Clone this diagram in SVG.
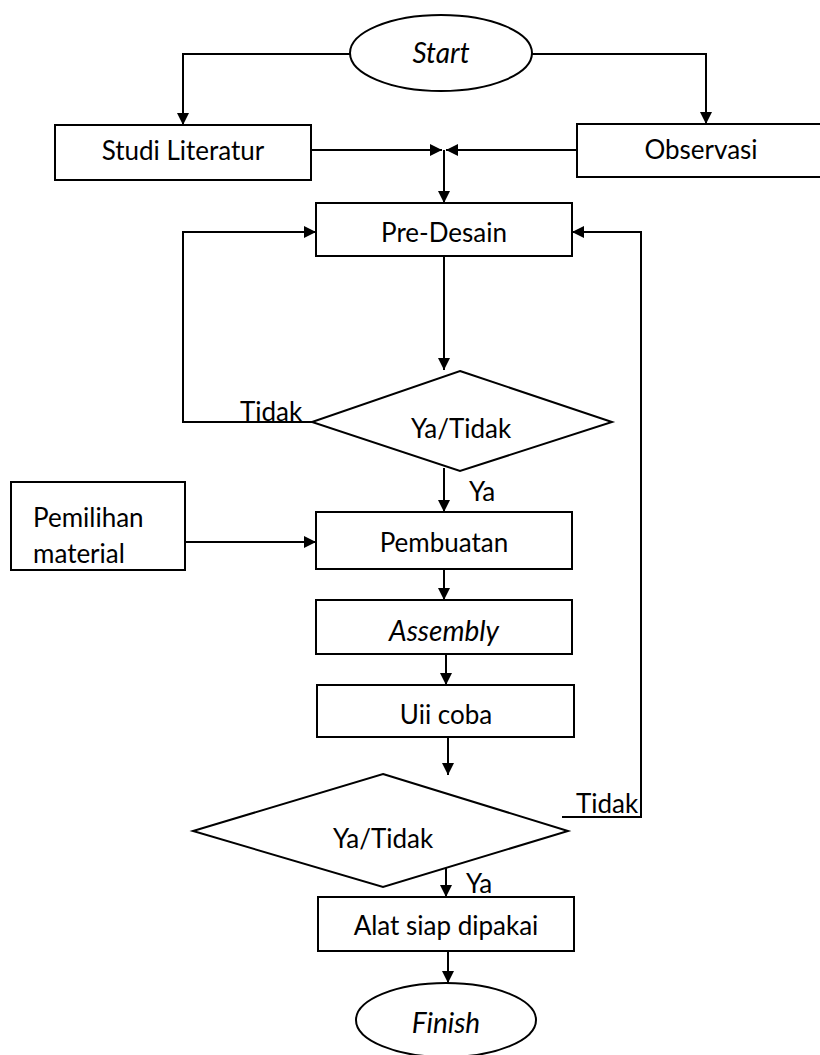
<svg xmlns="http://www.w3.org/2000/svg" width="820" height="1055" viewBox="0 0 820 1055">
<defs>
<marker id="ah" viewBox="0 0 12 12" refX="12" refY="6" markerWidth="12" markerHeight="12" markerUnits="userSpaceOnUse" orient="auto">
<path d="M0,0 L12,6 L0,12 Z" fill="#000"/>
</marker>
<style>
.s{fill:#fff;stroke:#000;stroke-width:2}
.c{fill:none;stroke:#000;stroke-width:2}
.a{fill:none;stroke:#000;stroke-width:2;marker-end:url(#ah)}
text{font-family:Lato,"Open Sans","Liberation Sans",sans-serif;font-size:26px;fill:#000}
.m{text-anchor:middle}
.i{font-style:italic;font-size:28px}
</style>
</defs>
<rect width="820" height="1055" fill="#fff"/>
<g id="connectors">
<path class="a" d="M350,54 H183 V125"/>
<path class="a" d="M532,54 H706 V124"/>
<path class="a" d="M311,150 H442"/>
<path class="a" d="M577,150 H446"/>
<path class="a" d="M444,150 V203"/>
<path class="a" d="M312,422 H183 V232 H316"/>
<path class="a" d="M562,817 H641 V232 H572"/>
<path class="a" d="M444,256 V370"/>
<path class="a" d="M444,468 V512"/>
<path class="a" d="M185,542 H316"/>
<path class="a" d="M444,569 V600"/>
<path class="a" d="M446,647 V685"/>
<path class="a" d="M448,737 V775"/>
<path class="a" d="M446,860 V897"/>
<path class="a" d="M448,945 V983"/>
</g>
<g id="start"><ellipse class="s" cx="441" cy="53" rx="91" ry="38"/><text class="m i" x="441" y="63">Start</text></g>
<g id="studi"><rect class="s" x="55" y="125" width="256" height="55"/><text class="m" x="183" y="160">Studi Literatur</text></g>
<g id="observasi"><rect class="s" x="577" y="124" width="260" height="53"/><text class="m" x="701" y="159">Observasi</text></g>
<g id="predesain"><rect class="s" x="316" y="203" width="256" height="53"/><text class="m" x="444" y="242">Pre-Desain</text></g>
<g id="decision1"><polygon class="s" points="460,371 612,422 460,471 312,422"/><text class="m" x="461" y="438">Ya/Tidak</text></g>
<g id="label-tidak1"><text x="240" y="421">Tidak</text></g>
<g id="label-ya1"><text x="469" y="501">Ya</text></g>
<g id="pemilihan"><rect class="s" x="11" y="482" width="174" height="88"/><text x="33" y="527">Pemilihan</text><text x="33" y="563">material</text></g>
<g id="pembuatan"><rect class="s" x="316" y="512" width="256" height="57"/><text class="m" x="444" y="552">Pembuatan</text></g>
<g id="assembly"><rect class="s" x="316" y="600" width="256" height="54"/><text class="m i" x="444" y="641">Assembly</text></g>
<g id="ujicoba"><rect class="s" x="317" y="685" width="257" height="52"/><text class="m" x="446" y="724">Uii coba</text></g>
<g id="decision2"><polygon class="s" points="383,774 568,831 383,887 193,831"/><text class="m" x="383" y="848">Ya/Tidak</text></g>
<g id="label-tidak2"><text x="576" y="813">Tidak</text></g>
<g id="label-ya2"><text x="466" y="893">Ya</text></g>
<g id="alat"><rect class="s" x="318" y="897" width="256" height="54"/><text class="m" x="446" y="935">Alat siap dipakai</text></g>
<g id="finish"><ellipse class="s" cx="446" cy="1020" rx="90" ry="37"/><text class="m i" x="446" y="1033">Finish</text></g>
</svg>
